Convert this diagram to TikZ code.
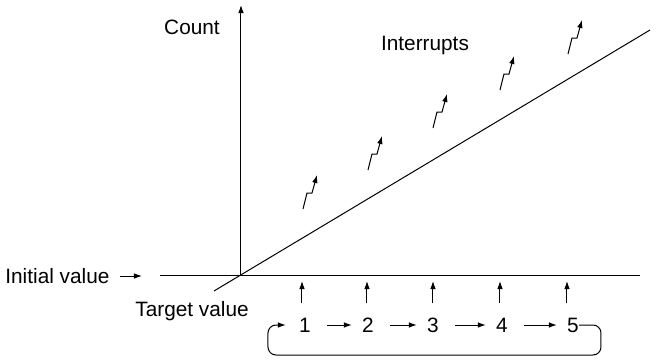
\documentclass[tikz,border=0pt]{standalone}
\usepackage{fontspec}
\setmainfont{Liberation Sans}
\usepackage{tikz}
\usetikzlibrary{arrows.meta,positioning,calc}

\begin{document}
\begin{tikzpicture}[
  x=0.5pt, y=-0.5pt,
  font=\fontsize{10.4}{12}\selectfont,
  >={Latex[length=4pt,width=2.8pt]},
  lbl/.style={inner sep=0pt},
  num/.style={inner sep=0pt},
  ln/.style={line width=0.5pt},
  ar/.style={->, line width=0.5pt},
]
\useasboundingbox (0,0) rectangle (661,360);
% axes
\coordinate (origin) at (241,275);
\coordinate (ytop) at (241,5);
\coordinate (xl) at (160,275);
\coordinate (xr) at (640,275);
\coordinate (dl) at (214,291);
\coordinate (dr) at (650,30);
\coordinate (initp) at (142,276);
\node[lbl] (count) at (192,27) {Count};
\node[lbl] (intr) at (425,45) {Interrupts};
\node[lbl, anchor=west] (init) at (5,276) {Initial value};
\node[lbl] (target) at (192,311) {Target value};
\node[num] (n1) at (305,325) {1};
\node[num] (n2) at (368,325) {2};
\node[num] (n3) at (433,325) {3};
\node[num] (n4) at (502,325) {4};
\node[num] (n5) at (573,325) {5};
\coordinate (loopR) at (601,355);
\coordinate (loopL) at (268,355);
\draw[ar] (origin) -- (ytop);
\draw[ln] (xl) -- (xr);
\draw[ln] (dl) -- (dr);
\draw[ar, shorten <=5pt] (init.east) -- (initp);
% timer ticks
\foreach \x [count=\i] in {302,367,433,500,567} {
  \coordinate (u\i) at (\x,303);
  \coordinate (v\i) at (\x,281);
  \draw[ar] (u\i) -- (v\i);
}
\foreach \a/\b in {n1/n2,n2/n3,n3/n4,n4/n5}
  \draw[ar, shorten <=8pt, shorten >=5pt] (\a.east) -- (\b.west);
\draw[ar, rounded corners=4pt, shorten >=6.5pt] (n5.east) -| (loopR) -- (loopL) |- (n1.west);
% interrupts
\foreach \x/\y in {303/209,368/170,433/128,500/90,568/54}
  \draw[ar] (\x,\y) -- ++(4,-16) -- ++(5,0) -- ++(5,-18);
\end{tikzpicture}
\end{document}
